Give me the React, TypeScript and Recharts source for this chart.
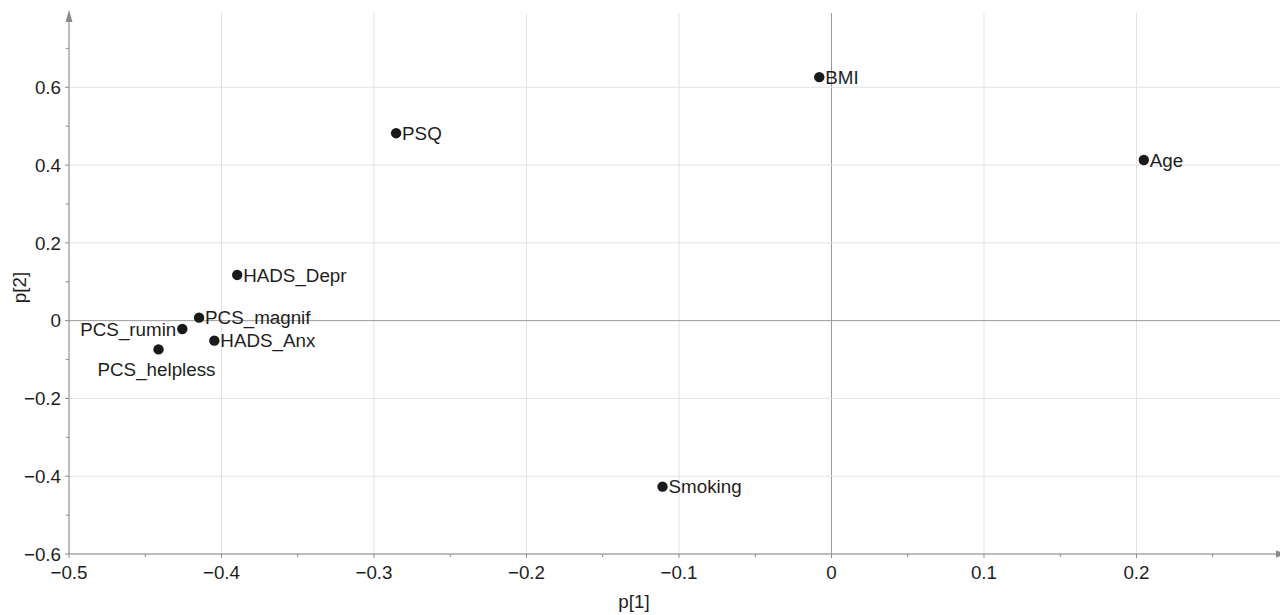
import React from 'react';
import {
  ScatterChart, Scatter, XAxis, YAxis, ReferenceLine, ReferenceDot,
} from 'recharts';

const NAMES = ['BMI', 'PSQ', 'Age', 'HADS_Depr', 'PCS_magnif', 'PCS_rumin', 'HADS_Anx', 'PCS_helpless', 'Smoking'];
const P1 = [-0.008, -0.2855, 0.2048, -0.3897, -0.4147, -0.4257, -0.4047, -0.4413, -0.1108];
const P2 = [0.626, 0.482, 0.413, 0.1175, 0.0077, -0.0216, -0.0515, -0.074, -0.4268];

const X_MAJOR = [-0.5, -0.4, -0.3, -0.2, -0.1, 0, 0.1, 0.2];
const X_MINOR = [-0.45, -0.35, -0.25, -0.15, -0.05, 0.05, 0.15, 0.25];
const Y_MAJOR = [-0.6, -0.4, -0.2, 0, 0.2, 0.4, 0.6];
const Y_MINOR = [-0.5, -0.3, -0.1, 0.1, 0.3, 0.5, 0.7];
const X_DOMAIN = [-0.5, 0.2987];
const Y_DOMAIN = [-0.6, 0.791];

const data = NAMES.map((name, i) => ({ name, x: P1[i], y: P2[i] }));

// label placement style per variable
const LABEL_SIDE: Record<string, string> = {
  PCS_rumin: 'left',
  PCS_helpless: 'below',
};

const FONT = '"Liberation Sans", Arial, Helvetica, sans-serif';
const FS = 18.8;
const TEXT = '#1e1e1e';
const AXIS = '#8a8a8a';
const GRID = '#e2e2e2';

const fmt = (v: number) => (v === 0 ? '0' : String(v).replace('-', '\u2212'));
const isMajor = (v: number, list: number[]) => list.some((m) => Math.abs(m - v) < 1e-9);

const XTick = (props: any) => {
  const { x, y, payload } = props;
  const major = isMajor(payload.value, X_MAJOR);
  return (
    <g>
      <line x1={x} x2={x} y1={y} y2={y + (major ? 4 : 3)} stroke={AXIS} strokeWidth={1} />
      {major && (
        <text x={x} y={y + 25} textAnchor="middle" fontSize={FS} fontFamily={FONT} fill={TEXT}>
          {fmt(payload.value)}
        </text>
      )}
    </g>
  );
};

const YTick = (props: any) => {
  const { x, y, payload } = props;
  const major = isMajor(payload.value, Y_MAJOR);
  return (
    <g>
      <line x1={x} x2={x - (major ? 4 : 3)} y1={y} y2={y} stroke={AXIS} strokeWidth={1} />
      {major && (
        <text x={x - 8} y={y + 6.7} textAnchor="end" fontSize={FS} fontFamily={FONT} fill={TEXT}>
          {fmt(payload.value)}
        </text>
      )}
    </g>
  );
};

const PointShape = (props: any) => {
  const { cx, cy, payload } = props;
  const side = LABEL_SIDE[payload.name] || 'right';
  let tx = cx + 6;
  let ty = cy + 6.8;
  let anchor: 'start' | 'end' | 'middle' = 'start';
  if (side === 'left') {
    tx = cx - 6;
    anchor = 'end';
  } else if (side === 'below') {
    tx = cx - 2;
    ty = cy + 27;
    anchor = 'middle';
  }
  return (
    <g>
      <circle cx={cx} cy={cy} r={5.2} fill="#1a1a1a" />
      <text x={tx} y={ty} textAnchor={anchor} fontSize={FS} fontFamily={FONT} fill={TEXT}>
        {payload.name}
      </text>
    </g>
  );
};

const RightArrow = (props: any) => {
  const { cx, cy } = props;
  return <path d={`M${cx} ${cy} L${cx - 11} ${cy - 3.5} L${cx - 11} ${cy + 3.5} Z`} fill={AXIS} />;
};

const UpArrow = (props: any) => {
  const { cx, cy } = props;
  return <path d={`M${cx} ${cy - 3} L${cx - 3.5} ${cy + 9} L${cx + 3.5} ${cy + 9} Z`} fill={AXIS} />;
};

export default function App() {
  return (
    <div style={{ width: 1280, height: 607, background: '#fff' }}>
      <ScatterChart
        width={1280}
        height={607}
        margin={{ top: 5, right: 1, bottom: 0, left: 0 }}
      >
        {X_MAJOR.map((v) => (
          <ReferenceLine key={`gx${v}`} x={v} stroke={v === 0 ? '#9a9a9a' : GRID} strokeWidth={1} />
        ))}
        {Y_MAJOR.map((v) => (
          <ReferenceLine key={`gy${v}`} y={v} stroke={v === 0 ? '#9a9a9a' : GRID} strokeWidth={1} />
        ))}
        <XAxis
          type="number"
          dataKey="x"
          domain={X_DOMAIN}
          ticks={[...X_MAJOR, ...X_MINOR].sort((a, b) => a - b)}
          interval={0}
          allowDataOverflow
          height={61}
          tickSize={0}
          tickMargin={0}
          tickLine={false}
          axisLine={{ stroke: AXIS, strokeWidth: 1 }}
          tick={<XTick />}
          label={{
            content: (p: any) => {
              const vb = p.viewBox || {};
              return (
                <text x={vb.x + vb.width / 2 - 44} y={vb.y + 54} textAnchor="middle" fontSize={FS} fontFamily={FONT} fill={TEXT}>
                  p[1]
                </text>
              );
            },
          }}
        />
        <YAxis
          type="number"
          dataKey="y"
          domain={Y_DOMAIN}
          ticks={[...Y_MAJOR, ...Y_MINOR].sort((a, b) => a - b)}
          interval={0}
          allowDataOverflow
          width={61}
          tickSize={0}
          tickMargin={0}
          tickLine={false}
          axisLine={{ stroke: AXIS, strokeWidth: 1 }}
          tick={<YTick />}
          label={{
            content: (p: any) => {
              const vb = p.viewBox || {};
              const cx = vb.x + 11;
              const cy = vb.y + vb.height / 2 + 4;
              return (
                <text
                  x={cx}
                  y={cy}
                  transform={`rotate(-90 ${cx} ${cy})`}
                  textAnchor="middle"
                  dominantBaseline="central"
                  fontSize={FS}
                  fontFamily={FONT}
                  fill={TEXT}
                >
                  p[2]
                </text>
              );
            },
          }}
        />
        <ReferenceDot x={X_DOMAIN[1]} y={Y_DOMAIN[0]} ifOverflow="visible" shape={<RightArrow />} />
        <ReferenceDot x={X_DOMAIN[0]} y={Y_DOMAIN[1]} ifOverflow="visible" shape={<UpArrow />} />
        <Scatter data={data} isAnimationActive={false} shape={<PointShape />} />
      </ScatterChart>
    </div>
  );
}
